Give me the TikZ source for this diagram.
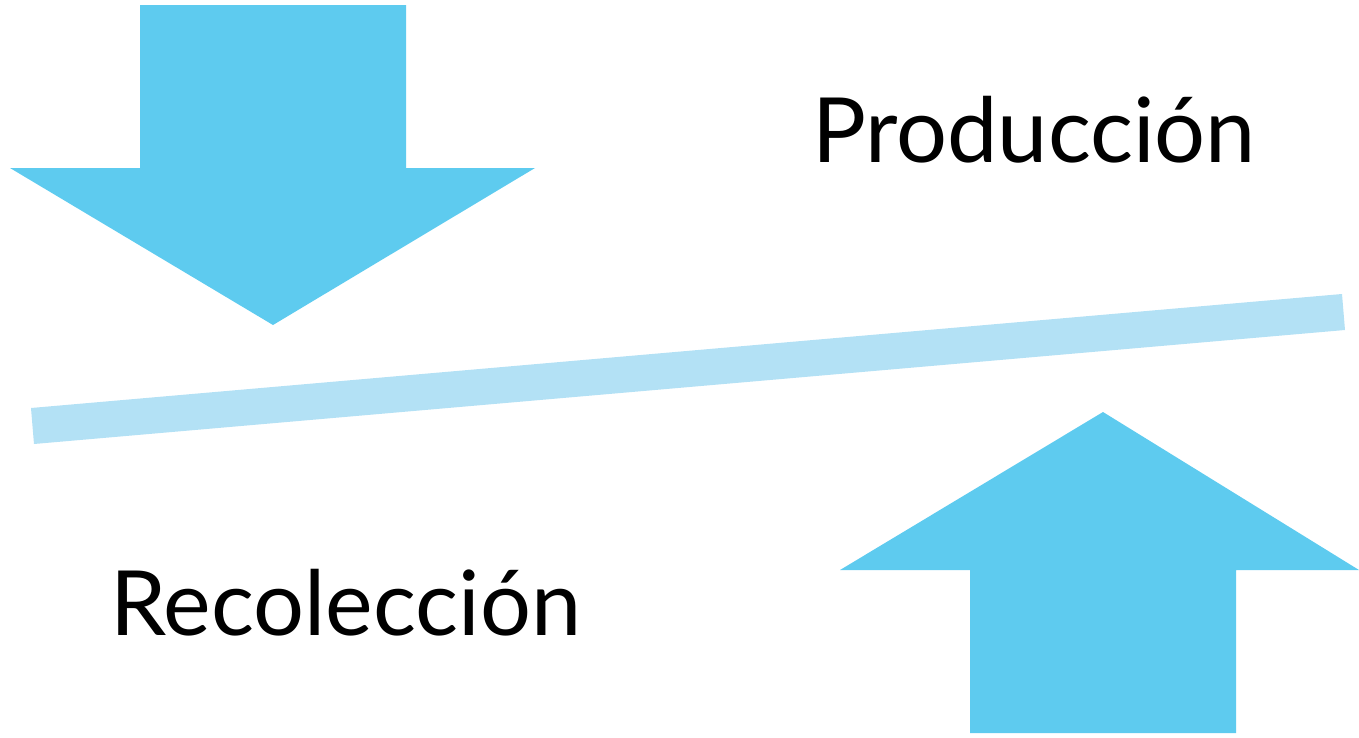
\documentclass[tikz,border=0pt]{standalone}
\usepackage{fontspec}
\setmainfont{Lato}
\definecolor{arrowblue}{HTML}{5ECBEF}
\definecolor{barblue}{HTML}{B3E1F5}
\begin{document}
\begin{tikzpicture}[x=1pt,y=-1pt,
  bigarrow/.style={fill=arrowblue,draw=none},
  barstyle/.style={fill=barblue,draw=none},
  label/.style={font=\fontsize{90}{100}\selectfont,inner sep=0pt,anchor=base west}]
\useasboundingbox (0,0) rectangle (1359,737);
% down arrow
\path[bigarrow] (140,5) -- (406,5) -- (406,168) -- (535,168) -- (273,325) -- (10,168) -- (140,168) -- cycle;
% up arrow
\path[bigarrow] (970,733) -- (1236,733) -- (1236,570) -- (1359,570) -- (1103,412) -- (840,570) -- (970,570) -- cycle;
% bar
\path[barstyle] (31,408) -- (1342,294) -- (1345,330) -- (34,444) -- cycle;
\node[label] (prod) at (812,162) {Producción};
\node[label] (reco) at (110,635) {Recolección};
\end{tikzpicture}
\end{document}
